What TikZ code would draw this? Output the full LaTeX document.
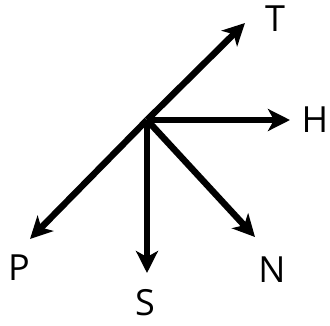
\documentclass[tikz,border=0pt]{standalone}
\usepackage{fontspec}
\setmainfont{Open Sans}
\usetikzlibrary{arrows.meta}

\begin{document}
\begin{tikzpicture}[
    x=1pt,y=-1pt,
    vec/.style={-{Stealth[length=22pt,width=22pt,inset=6pt]},line width=6.5pt},
    lbl/.style={inner sep=0pt,font=\fontsize{36}{40}\selectfont}
  ]
    \useasboundingbox (0,0) rectangle (330,325);
    \coordinate (O) at (147,120);
    \coordinate (tT) at (245,23);
    \coordinate (tH) at (290,120);
    \coordinate (tN) at (255,237);
    \coordinate (tS) at (147,273);
    \coordinate (tP) at (30,239);

    \node[lbl] (T) at (275,19) {T};
    \node[lbl] (H) at (315,120) {H};
    \node[lbl] (N) at (272,270) {N};
    \node[lbl] (S) at (145,303) {S};
    \node[lbl] (P) at (19,268) {P};

    \draw[vec] (O) -- (tT);
    \draw[vec] (O) -- (tH);
    \draw[vec] (O) -- (tN);
    \draw[vec] (O) -- (tS);
    \draw[vec] (O) -- (tP);
\end{tikzpicture}
\end{document}
